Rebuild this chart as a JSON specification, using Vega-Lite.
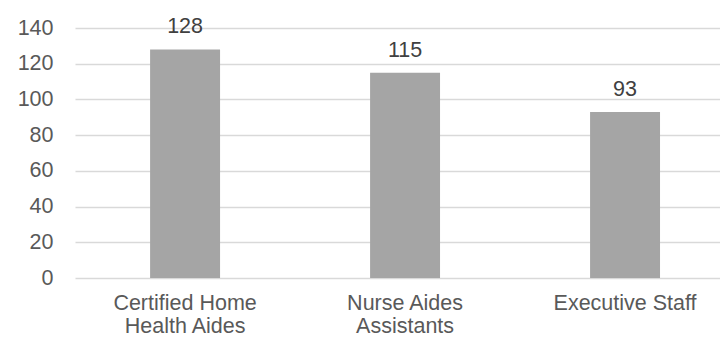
{
  "$schema": "https://vega.github.io/schema/vega-lite/v6.json",
  "autosize": "none",
  "width": 645,
  "height": 250,
  "padding": {"left": 75, "top": 28, "right": 0, "bottom": 69},
  "background": "white",
  "config": {
    "view": {"stroke": null},
    "font": "Liberation Sans"
  },
  "data": {
    "values": [
      {"category": "Certified Home Health Aides", "value": 128},
      {"category": "Nurse Aides Assistants", "value": 115},
      {"category": "Executive Staff", "value": 93}
    ]
  },
  "encoding": {
    "x": {
      "field": "category",
      "type": "nominal",
      "sort": null,
      "scale": {"paddingInner": 0.682, "paddingOuter": 0.307, "align": 0.556},
      "axis": {
        "title": null,
        "labelAngle": 0,
        "domain": false,
        "ticks": false,
        "labelFontSize": 21.5,
        "labelColor": "#595959",
        "labelPadding": 14,
        "labelLineHeight": 23,
        "labelExpr": "datum.value == 'Certified Home Health Aides' ? ['Certified Home', 'Health Aides'] : datum.value == 'Nurse Aides Assistants' ? ['Nurse Aides', 'Assistants'] : datum.value",
        "labelLimit": 300
      }
    },
    "y": {
      "field": "value",
      "type": "quantitative",
      "scale": {"domain": [0, 140], "nice": false},
      "axis": {
        "title": null,
        "values": [0, 20, 40, 60, 80, 100, 120, 140],
        "domain": false,
        "ticks": false,
        "grid": true,
        "gridColor": "#D9D9D9",
        "gridWidth": 1.3,
        "labelFontSize": 21.5,
        "labelColor": "#595959",
        "labelPadding": 22
      }
    }
  },
  "layer": [
    {"mark": {"type": "bar", "color": "#A5A5A5"}},
    {
      "mark": {"type": "text", "baseline": "alphabetic", "dy": -16, "fontSize": 21.5, "color": "#404040"},
      "encoding": {"text": {"field": "value", "type": "quantitative"}}
    }
  ]
}
